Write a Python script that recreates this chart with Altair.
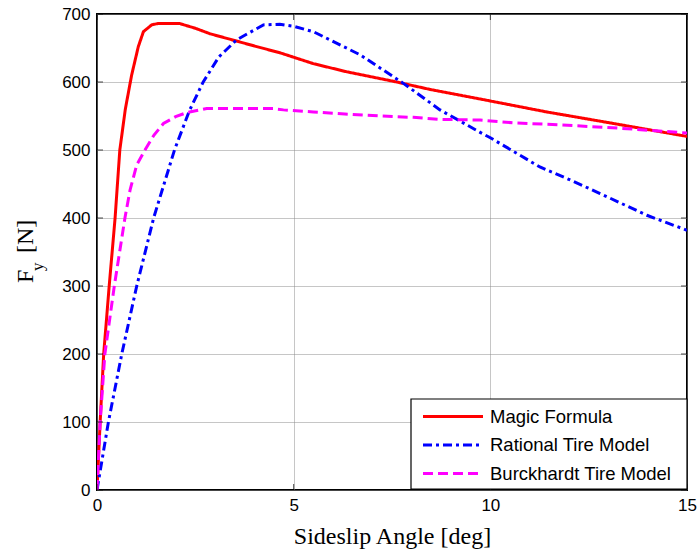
import altair as alt
import pandas as pd

# ---- data ----
series_names = ["Magic Formula", "Rational Tire Model", "Burckhardt Tire Model"]

mf_alpha = [0, 0.08, 0.17, 0.31, 0.46, 0.58, 0.72, 0.88, 1.05, 1.18, 1.39, 1.55, 1.8, 2.1,
            2.5, 2.87, 3.5, 4.0, 4.65, 5.5, 6.35, 7.62, 8.47, 9.74, 11.43, 13.13, 15]
mf_fy = [0, 100, 200, 300, 400, 500, 560, 610, 652, 674, 684, 686, 686, 686,
         679, 671, 661, 653, 643, 627, 615, 600, 589, 575, 556, 539, 520]

rt_alpha = [0, 0.29, 0.63, 1.01, 1.44, 1.97, 2.35, 2.7, 3.1, 3.55, 4.23, 4.65, 4.99, 5.5,
            5.92, 6.69, 7.79, 8.72, 9.74, 10.0, 11.26, 12.03, 12.79, 13.98, 15]
rt_fy = [0, 100, 200, 300, 400, 500, 558, 600, 637, 662, 684, 685, 682, 674,
         662, 640, 598, 559, 526, 518, 475, 456, 436, 404, 382]

bk_alpha = [0, 0.08, 0.2, 0.44, 0.71, 0.84, 1.01, 1.22, 1.45, 1.69, 2.0, 2.28, 2.79, 3.5,
            4.48, 4.74, 5.5, 6.3, 7.2, 8.04, 8.72, 9.74, 10.58, 11.77, 13.3, 15]
bk_fy = [0, 100, 200, 300, 400, 441, 478, 500, 522, 539, 549, 555, 561, 561,
         561, 559, 556, 553, 550, 548, 545, 544, 540, 537, 532, 525]

x_ticks = [0, 5, 10, 15]
y_ticks = [0, 100, 200, 300, 400, 500, 600, 700]

colors = ["#ff0000", "#0000ff", "#ff00ff"]
dashes = [[1, 0], [9, 4, 3, 4], [10, 5]]

frames = []
for name, xs, ys in zip(series_names, [mf_alpha, rt_alpha, bk_alpha], [mf_fy, rt_fy, bk_fy]):
    frames.append(pd.DataFrame({"alpha": xs, "Fy": ys, "model": name, "i": range(len(xs))}))
df = pd.concat(frames, ignore_index=True)

xscale = alt.Scale(domain=[0, 15], nice=False, zero=False)
yscale = alt.Scale(domain=[0, 700], nice=False)

xaxis = alt.Axis(values=x_ticks, title="Sideslip Angle [deg]",
                 titleFont="Liberation Serif", titleFontSize=24,
                 titleFontWeight="normal", titleColor="black", titlePadding=11,
                 labelFont="Liberation Sans", labelFontSize=17, labelColor="black",
                 labelPadding=7, labelFlush=False, ticks=False, domain=False,
                 grid=True, gridColor="#8c8c8c", gridDash=[1, 1], gridWidth=1)
yaxis = alt.Axis(values=y_ticks, title=None,
                 labelFont="Liberation Sans", labelFontSize=17, labelColor="black",
                 labelPadding=7, labelFlush=False, ticks=False, domain=False,
                 grid=True, gridColor="#8c8c8c", gridDash=[1, 1], gridWidth=1)

lines = alt.Chart(df).mark_line(strokeWidth=3, clip=True).encode(
    x=alt.X("alpha:Q", scale=xscale, axis=xaxis),
    y=alt.Y("Fy:Q", scale=yscale, axis=yaxis),
    color=alt.Color("model:N", scale=alt.Scale(domain=series_names, range=colors), legend=None),
    strokeDash=alt.StrokeDash("model:N", scale=alt.Scale(domain=series_names, range=dashes), legend=None),
    order=alt.Order("i:Q"),
)

ytick_data = alt.Data(values=[{"Fy": v} for v in y_ticks])
xtick_data = alt.Data(values=[{"alpha": v} for v in x_ticks])

tick_l = alt.Chart(ytick_data).mark_tick(color="black", thickness=1, size=6).encode(
    y=alt.Y("Fy:Q", scale=yscale, axis=yaxis), x=alt.value(3))
tick_r = alt.Chart(ytick_data).mark_tick(color="black", thickness=1, size=6).encode(
    y=alt.Y("Fy:Q", scale=yscale, axis=yaxis), x=alt.value(587))
tick_b = alt.Chart(xtick_data).mark_tick(color="black", thickness=1, size=6).encode(
    x=alt.X("alpha:Q", scale=xscale, axis=xaxis), y=alt.value(473))
tick_t = alt.Chart(xtick_data).mark_tick(color="black", thickness=1, size=6).encode(
    x=alt.X("alpha:Q", scale=xscale, axis=xaxis), y=alt.value(3))

one = alt.Data(values=[{}])

# legend box
leg_box = alt.Chart(one).mark_rect(fill="white", stroke="black", strokeWidth=1.2).encode(
    x=alt.value(314), x2=alt.value(590), y=alt.value(385), y2=alt.value(475))
leg_layers = [leg_box]
row_y = [402.5, 431, 459.5]
for name, col, dash, ry in zip(series_names, colors, dashes, row_y):
    leg_layers.append(alt.Chart(one).mark_rule(color=col, strokeWidth=3, strokeDash=dash).encode(
        x=alt.value(326), x2=alt.value(386), y=alt.value(ry)))
    leg_layers.append(alt.Chart(one).mark_text(align="left", baseline="middle",
                                               font="Liberation Sans", fontSize=18.5,
                                               color="black").encode(
        x=alt.value(393), y=alt.value(ry), text=alt.value(name)))

ttl_F = alt.Chart(one).mark_text(angle=270, align="left", baseline="alphabetic",
                                 font="Liberation Serif", fontSize=24, color="black").encode(
    x=alt.value(-64), y=alt.value(269), text=alt.value("F"))
ttl_y = alt.Chart(one).mark_text(angle=270, align="left", baseline="alphabetic",
                                 font="Liberation Serif", fontSize=17, color="black").encode(
    x=alt.value(-54), y=alt.value(257), text=alt.value("y"))
ttl_N = alt.Chart(one).mark_text(angle=270, align="left", baseline="alphabetic",
                                 font="Liberation Serif", fontSize=24, color="black").encode(
    x=alt.value(-64), y=alt.value(239), text=alt.value("[N]"))

chart = alt.layer(lines, tick_l, tick_r, tick_b, tick_t, *leg_layers, ttl_F, ttl_y, ttl_N).properties(
    width=590, height=476,
    padding={"left": 97, "top": 14, "right": 13, "bottom": 63},
    autosize=alt.AutoSizeParams(type="none"),
    background="white",
).configure_view(stroke="black", strokeWidth=2)

chart.save("out.html", embed_options={"renderer": "svg", "actions": False})
